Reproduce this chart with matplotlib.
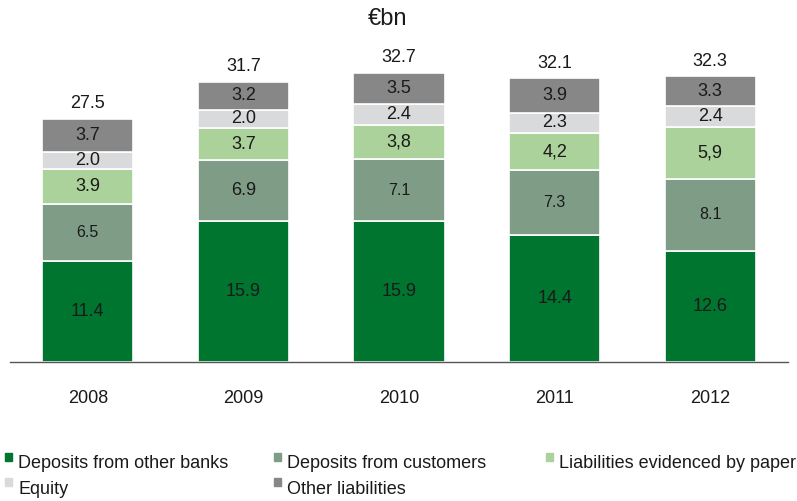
import matplotlib
matplotlib.use('Agg')
import matplotlib.pyplot as plt
import numpy as np

plt.rcParams['font.family'] = ['Liberation Sans', 'DejaVu Sans']

years = ['2008', '2009', '2010', '2011', '2012']
series_names = ['Deposits from other banks', 'Deposits from customers',
                'Liabilities evidenced by paper', 'Equity', 'Other liabilities']
banks = [11.4, 15.9, 15.9, 14.4, 12.6]
customers = [6.5, 6.9, 7.1, 7.3, 8.1]
paper = [3.9, 3.7, 3.8, 4.2, 5.9]
equity = [2.0, 2.0, 2.4, 2.3, 2.4]
other = [3.7, 3.2, 3.5, 3.9, 3.3]
totals = ['27.5', '31.7', '32.7', '32.1', '32.3']

# labels as printed in the source (mixed decimal marks)
banks_lbl = ['11.4', '15.9', '15.9', '14.4', '12.6']
customers_lbl = ['6.5', '6.9', '7.1', '7.3', '8.1']
paper_lbl = ['3.9', '3.7', '3,8', '4,2', '5,9']
equity_lbl = ['2.0', '2.0', '2.4', '2.3', '2.4']
other_lbl = ['3.7', '3.2', '3.5', '3.9', '3.3']

colors = ['#00752f', '#7f9c86', '#abd29a', '#d9dadc', '#878787']
small_customers = [True, False, True, True, True]

fig = plt.figure(figsize=(7.97, 5.01), dpi=100)
ax = fig.add_axes([10 / 797, (501 - 362) / 501, 778 / 797, 353.6 / 501])

x = np.arange(len(years))
width = 0.585
bottom = np.zeros(len(years))
data = [banks, customers, paper, equity, other]
labels = [banks_lbl, customers_lbl, paper_lbl, equity_lbl, other_lbl]
for i, (vals, lbls) in enumerate(zip(data, labels)):
    ax.bar(x, vals, width, bottom=bottom, color=colors[i],
           edgecolor='white', linewidth=1.2, label=series_names[i])
    for j in range(len(years)):
        size = 13
        if i == 1 and small_customers[j]:
            size = 11.5
        ax.text(x[j], bottom[j] + vals[j] / 2, lbls[j], ha='center', va='center',
                fontsize=size, color='#1a1a1a')
    bottom += np.array(vals)

for j in range(len(years)):
    ax.text(x[j], bottom[j] + 0.75, totals[j], ha='center', va='bottom',
            fontsize=13, color='#1a1a1a')

ax.set_xlim(-0.5, 4.5)
ax.set_ylim(0, 40)
for s in ['top', 'right', 'left']:
    ax.spines[s].set_visible(False)
ax.spines['bottom'].set_color('#555555')
ax.spines['bottom'].set_linewidth(1)
ax.set_yticks([])
ax.set_xticks(x)
ax.set_xticklabels(years, fontsize=13, color='#1a1a1a')
ax.tick_params(axis='x', length=0, pad=20)

fig.text(388 / 797, 1 - 19 / 501, '€bn', ha='center', va='center', fontsize=17, color='#1a1a1a')

# legend: small squares raised above the text baseline
leg_pos = [(5, 464), (274, 464), (546, 464), (5, 489), (274, 489)]
for i, (px, py) in enumerate(leg_pos):
    fig.patches.append(plt.Rectangle((px / 797, 1 - (py - 3) / 501), 7 / 797, 8 / 501,
                                     transform=fig.transFigure, color=colors[i], figure=fig))
    fig.text((px + 13) / 797, 1 - py / 501, series_names[i], ha='left', va='center',
             fontsize=13, color='#1a1a1a')

fig.savefig('out.png', dpi=100)
